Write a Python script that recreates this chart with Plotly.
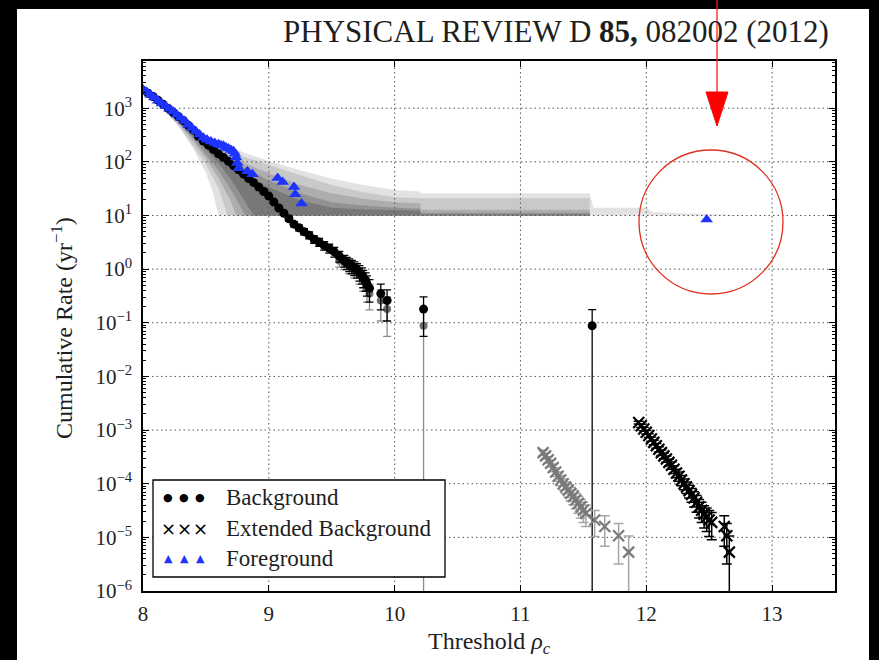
import plotly.graph_objects as go

# ---------------------------------------------------------------------------
# Background-estimate envelopes (nested bands, band 1 = widest / lightest)
# ---------------------------------------------------------------------------
band1_x = [8.0, 8.1, 8.2, 8.3, 8.4, 8.5, 8.55, 8.6, 8.7, 8.8, 8.9, 9.0, 9.25, 9.5, 9.75,
           10.0, 10.2, 10.21, 11.55, 11.58, 12.0, 12.05, 12.72]
band1_lo = [2150, 1350, 760, 400, 175, 62, 30, 10, 10, 10, 10, 10, 10, 10, 10,
            10, 10, 10, 10, 10, 10, 10, 10]
band1_hi = [2300, 1600, 1050, 700, 450, 320, 275, 240, 190, 150, 125, 104, 70, 49, 37,
            30, 28, 26, 26, 14, 14, 11.5, 10.2]

band2_x = [8.0, 8.1, 8.2, 8.3, 8.4, 8.5, 8.6, 8.64, 8.67, 8.8, 9.0, 9.25, 9.5, 9.75,
           10.0, 10.2, 10.21, 11.55]
band2_lo = [2150, 1400, 800, 420, 200, 90, 32, 17, 10, 10, 10, 10, 10, 10, 10, 10, 10, 10]
band2_hi = [2250, 1550, 1000, 660, 420, 290, 205, 195, 185, 125, 87, 56, 37, 27.5,
            22, 21.5, 21, 21]

band3_x = [8.0, 8.1, 8.2, 8.3, 8.4, 8.5, 8.6, 8.7, 8.74, 8.8, 9.0, 9.25, 9.5, 9.75,
           10.0, 10.2, 10.21, 11.55]
band3_lo = [2150, 1420, 830, 460, 240, 115, 50, 18, 10, 10, 10, 10, 10, 10, 10, 10, 10, 10]
band3_hi = [2200, 1500, 960, 620, 380, 260, 180, 125, 110, 95, 61, 37, 26, 20.5,
            17.7, 17, 12.8, 12.8]

band4_x = [8.0, 8.1, 8.2, 8.3, 8.4, 8.5, 8.6, 8.7, 8.78, 8.81, 9.0, 9.25, 9.5, 9.75,
           10.0, 10.2, 10.21, 11.55]
band4_lo = [2150, 1440, 850, 490, 270, 140, 70, 30, 14, 10, 10, 10, 10, 10, 10, 10, 10, 10]
band4_hi = [2170, 1480, 930, 580, 350, 235, 160, 108, 85, 78, 45, 26, 17.7, 15.3,
            14, 13.5, 11.3, 11.3]

band5_x = [8.0, 8.1, 8.2, 8.3, 8.4, 8.5, 8.6, 8.7, 8.8, 8.88, 9.0, 9.25, 9.5, 9.75,
           10.0, 10.2, 10.21, 11.55]
band5_lo = [2150, 1460, 870, 510, 300, 170, 95, 47, 20, 10, 10, 10, 10, 10, 10, 10, 10, 10]
band5_hi = [2160, 1470, 910, 560, 330, 215, 145, 97, 64, 45, 33.6, 19, 14, 13,
            12.6, 12.3, 10.6, 10.6]

band_colors = ["#e2e2e2", "#c9c9c9", "#adadad", "#929292", "#787878"]

# ---------------------------------------------------------------------------
# Background (time slides), cumulative rate in yr^-1 with Poisson errors
# ---------------------------------------------------------------------------
bkg_x = [8.00, 8.04, 8.08, 8.12, 8.16, 8.20, 8.24, 8.28, 8.32, 8.36, 8.40, 8.44, 8.48,
         8.52, 8.56, 8.60, 8.64, 8.68, 8.72, 8.76, 8.80, 8.84, 8.88, 8.92, 8.96, 9.00,
         9.04, 9.08, 9.12, 9.16, 9.20, 9.24, 9.28, 9.32, 9.36, 9.40, 9.44, 9.48, 9.52,
         9.56, 9.60, 9.62, 9.64, 9.66, 9.68, 9.70, 9.72, 9.74, 9.75, 9.77, 9.78, 9.80,
         9.89, 9.94, 10.23, 11.57]
bkg_y = [2140, 1900, 1650, 1400, 1180, 990, 830, 700, 590, 480, 390, 300, 245,
         205, 170, 141, 120, 102, 85, 71, 59, 49, 41, 34, 28, 23,
         17.8, 13.8, 11.0, 8.7, 6.9, 5.9, 5.0, 4.3, 3.6, 3.2, 2.75, 2.45, 2.1,
         1.74, 1.45, 1.32, 1.23, 1.14, 1.06, 0.97, 0.88, 0.79, 0.70, 0.62, 0.53, 0.44,
         0.35, 0.26, 0.18, 0.088]
bkg_err = [13.7, 12.9, 12.0, 11.1, 10.2, 9.3, 8.5, 7.8, 7.2, 6.5, 5.9, 5.1, 4.6,
           4.2, 3.9, 3.5, 3.25, 3.0, 2.7, 2.5, 2.3, 2.1, 1.9, 1.73, 1.57, 1.42,
           1.25, 1.10, 0.98, 0.87, 0.78, 0.72, 0.66, 0.62, 0.56, 0.53, 0.49, 0.46, 0.43,
           0.39, 0.36, 0.34, 0.33, 0.32, 0.305, 0.29, 0.28, 0.264, 0.25, 0.233, 0.216, 0.197,
           0.176, 0.152, 0.124, 0.088]

# Background with the candidate's own triggers removed (grey)
bkg2_x = [9.56, 9.60, 9.64, 9.68, 9.72, 9.75, 9.78, 9.80, 9.89, 9.94, 10.23]
bkg2_y = [1.45, 1.32, 1.14, 0.97, 0.79, 0.62, 0.44, 0.35, 0.26, 0.18, 0.088]
bkg2_err = [0.36, 0.34, 0.32, 0.29, 0.264, 0.233, 0.197, 0.176, 0.152, 0.124, 0.088]

# ---------------------------------------------------------------------------
# Extended background (many more time slides)
# ---------------------------------------------------------------------------
ext_x = [11.94, 11.96, 11.98, 12.00, 12.02, 12.04, 12.06, 12.08, 12.10, 12.12, 12.14,
         12.16, 12.18, 12.20, 12.22, 12.24, 12.26, 12.28, 12.30, 12.32, 12.34, 12.36,
         12.38, 12.40, 12.42, 12.44, 12.46, 12.48, 12.50, 12.52, 12.62, 12.64, 12.66]
ext_y = [1.38e-3, 1.20e-3, 1.05e-3, 9.1e-4, 7.9e-4, 6.8e-4, 5.9e-4, 5.1e-4, 4.4e-4,
         3.8e-4, 3.3e-4, 2.9e-4, 2.5e-4, 2.2e-4, 1.86e-4, 1.58e-4, 1.38e-4, 1.17e-4,
         1.0e-4, 8.7e-5, 7.4e-5, 6.3e-5, 5.4e-5, 4.5e-5, 3.7e-5, 3.2e-5, 2.7e-5, 2.4e-5,
         2.1e-5, 1.9e-5, 1.6e-5, 1.07e-5, 5.3e-6]
ext_err = [8.5e-5, 8.0e-5, 7.5e-5, 6.9e-5, 6.5e-5, 6.0e-5, 5.6e-5, 5.2e-5, 4.8e-5,
           4.5e-5, 4.2e-5, 3.9e-5, 3.6e-5, 3.4e-5, 3.1e-5, 2.9e-5, 2.7e-5, 2.5e-5,
           2.3e-5, 2.1e-5, 2.0e-5, 1.8e-5, 1.7e-5, 1.55e-5, 1.4e-5, 1.3e-5, 1.2e-5, 1.12e-5,
           1.06e-5, 1.0e-5, 9.2e-6, 7.5e-6, 5.3e-6]

ext2_x = [11.18, 11.20, 11.22, 11.24, 11.26, 11.28, 11.30, 11.32, 11.34, 11.36, 11.38,
          11.40, 11.42, 11.44, 11.46, 11.48, 11.50, 11.52, 11.59, 11.67, 11.78, 11.86]
ext2_y = [3.8e-4, 3.3e-4, 2.8e-4, 2.4e-4, 2.0e-4, 1.66e-4, 1.38e-4, 1.17e-4, 1.0e-4,
          8.7e-5, 7.6e-5, 6.6e-5, 5.8e-5, 5.0e-5, 4.3e-5, 3.7e-5, 3.2e-5, 2.8e-5,
          2.1e-5, 1.6e-5, 1.07e-5, 5.3e-6]
ext2_err = [4.5e-5, 4.2e-5, 3.9e-5, 3.6e-5, 3.3e-5, 3.0e-5, 2.7e-5, 2.5e-5, 2.3e-5,
            2.1e-5, 2.0e-5, 1.9e-5, 1.75e-5, 1.6e-5, 1.5e-5, 1.4e-5, 1.3e-5, 1.2e-5,
            1.06e-5, 9.2e-6, 7.5e-6, 5.3e-6]

# ---------------------------------------------------------------------------
# Foreground (zero-lag) coincidences
# ---------------------------------------------------------------------------
fg_x = [8.00, 8.03, 8.06, 8.09, 8.12, 8.15, 8.18, 8.21, 8.24, 8.27, 8.30, 8.33, 8.36,
        8.39, 8.42, 8.45, 8.48, 8.51, 8.54, 8.57, 8.60, 8.62, 8.64, 8.66, 8.68, 8.70,
        8.72, 8.73, 8.74, 8.75, 8.76, 8.83, 8.87, 9.07, 9.11, 9.20, 9.21, 9.26, 12.48]
fg_y = [2239, 1995, 1778, 1585, 1380, 1230, 1096, 977, 871, 759, 661, 575, 490,
        427, 372, 324, 282, 257, 240, 224, 214, 204, 200, 186, 178, 166,
        158, 141, 120, 95, 76, 67, 59, 50, 42, 34, 25, 16.8, 8.4]

# Axis ticks
x_ticks = [8, 9, 10, 11, 12, 13]
y_tick_exp = [-6, -5, -4, -3, -2, -1, 0, 1, 2, 3]
y_ticks = [10.0 ** e for e in y_tick_exp]
y_ticktext = ["10<sup>" + (str(e) if e >= 0 else "\u2212" + str(-e)) + "</sup>"
              for e in y_tick_exp]

X_RANGE = [8, 13.5]
Y_RANGE_LOG = [-6, 3.88]
SERIF = "Liberation Serif, Times New Roman, serif"
TEXT = "#1e1e1e"
BLUE = "#1f33ff"

fig = go.Figure()

# envelopes
bands = [(band1_x, band1_lo, band1_hi), (band2_x, band2_lo, band2_hi),
         (band3_x, band3_lo, band3_hi), (band4_x, band4_lo, band4_hi),
         (band5_x, band5_lo, band5_hi)]
for (bx, blo, bhi), col in zip(bands, band_colors):
    fig.add_trace(go.Scatter(
        x=list(bx) + list(bx)[::-1], y=list(bhi) + list(blo)[::-1],
        mode="lines", fill="toself", fillcolor=col, line=dict(width=0, color=col),
        hoverinfo="skip", showlegend=False))

# dotted grid drawn over the envelopes
gx, gy = [], []
for t in x_ticks[1:]:
    gx += [t, t, None]
    gy += [10 ** Y_RANGE_LOG[0], 10 ** Y_RANGE_LOG[1], None]
for v in y_ticks[1:]:
    gx += [X_RANGE[0], X_RANGE[1], None]
    gy += [v, v, None]
fig.add_trace(go.Scatter(x=gx, y=gy, mode="lines", connectgaps=False,
                         line=dict(color="#555555", width=1, dash="1.5px,3px"),
                         hoverinfo="skip", showlegend=False))

# background
fig.add_trace(go.Scatter(
    x=bkg2_x, y=bkg2_y, mode="markers", showlegend=False,
    marker=dict(symbol="circle", size=8, color="#6f6f6f"),
    error_y=dict(type="data", array=bkg2_err, arrayminus=bkg2_err,
                 color="#8c8c8c", thickness=1.3, width=4)))
fig.add_trace(go.Scatter(
    x=bkg_x, y=bkg_y, mode="markers", name="Background", showlegend=False,
    marker=dict(symbol="circle", size=9, color="black"),
    error_y=dict(type="data", array=bkg_err, arrayminus=bkg_err,
                 color="black", thickness=1.3, width=4)))

# extended background
fig.add_trace(go.Scatter(
    x=ext2_x, y=ext2_y, mode="markers", showlegend=False,
    marker=dict(symbol="x-thin", size=11, line=dict(width=2.2, color="#7a7a7a")),
    error_y=dict(type="data", array=ext2_err, arrayminus=ext2_err,
                 color="#a6a6a6", thickness=1.5, width=5)))
fig.add_trace(go.Scatter(
    x=ext_x, y=ext_y, mode="markers", name="Extended Background", showlegend=False,
    marker=dict(symbol="x-thin", size=11, line=dict(width=2.2, color="black")),
    error_y=dict(type="data", array=ext_err, arrayminus=ext_err,
                 color="black", thickness=1.5, width=5)))

# foreground
fig.add_trace(go.Scatter(
    x=fg_x, y=fg_y, mode="markers", name="Foreground", showlegend=False,
    marker=dict(symbol="triangle-up", size=11, color=BLUE)))


def px_x(p):
    return (p - 143) / 692.0


def px_y(p):
    return (591 - p) / 530.0


shapes = []
# dark page border strips
for x0, x1, y0, y1 in [(0, 17, 0, 660), (0, 879, 0, 9), (869, 879, 0, 660)]:
    shapes.append(dict(type="rect", xref="paper", yref="paper",
                       x0=px_x(x0), x1=px_x(x1), y0=px_y(y1), y1=px_y(y0),
                       fillcolor="black", line=dict(width=0), layer="above"))
# legend frame
shapes.append(dict(type="rect", xref="paper", yref="paper",
                   x0=px_x(153), x1=px_x(445), y0=px_y(577), y1=px_y(480),
                   fillcolor="white", line=dict(color="black", width=1.3), layer="above"))
# red highlight: circle and arrow
shapes.append(dict(type="circle", xref="paper", yref="paper",
                   x0=px_x(639), x1=px_x(783), y0=px_y(294), y1=px_y(150),
                   line=dict(color="#e0301e", width=1.3), layer="above"))
shapes.append(dict(type="line", xref="paper", yref="paper",
                   x0=px_x(717), x1=px_x(717), y0=px_y(0), y1=px_y(95),
                   line=dict(color="#ff1a1a", width=1.3), layer="above"))
shapes.append(dict(type="path", xref="paper", yref="paper",
                   path="M %f,%f L %f,%f L %f,%f Z" % (px_x(706), px_y(92), px_x(728), px_y(92),
                                                       px_x(717), px_y(126)),
                   fillcolor="#ff0000", line=dict(color="#ff0000", width=1), layer="above"))

annotations = []
annotations.append(dict(xref="paper", yref="paper", x=px_x(831), y=px_y(31),
                        xanchor="right", yanchor="middle", showarrow=False,
                        text="PHYSICAL REVIEW D <b>85,</b> 082002 (2012)",
                        font=dict(family=SERIF, size=31, color=TEXT)))
annotations.append(dict(xref="paper", yref="paper", x=px_x(62), y=px_y(328),
                        xanchor="center", yanchor="middle", showarrow=False, textangle=-90,
                        text="Cumulative Rate (yr<sup>\u22121</sup>)",
                        font=dict(family=SERIF, size=24, color=TEXT)))
annotations.append(dict(xref="paper", yref="paper", x=px_x(489), y=px_y(643),
                        xanchor="center", yanchor="middle", showarrow=False,
                        text="Threshold <i>\u03c1</i><sub><i>c</i></sub>",
                        font=dict(family=SERIF, size=24, color=TEXT)))

legend_rows = [("Background", "\u25cf", "black", 11, 497),
               ("Extended Background", "\u00d7", "black", 18, 528),
               ("Foreground", "\u25b2", BLUE, 11, 558)]
for label, sym, col, ssize, ypx in legend_rows:
    for mx in (168, 184, 200):
        annotations.append(dict(xref="paper", yref="paper", x=px_x(mx), y=px_y(ypx),
                                xanchor="center", yanchor="middle", showarrow=False,
                                text=sym, font=dict(family="DejaVu Sans", size=ssize, color=col)))
    annotations.append(dict(xref="paper", yref="paper", x=px_x(224), y=px_y(ypx),
                            xanchor="left", yanchor="middle", showarrow=False, text=label,
                            font=dict(family=SERIF, size=23, color=TEXT)))

fig.update_layout(
    width=879, height=660,
    margin=dict(l=143, r=44, t=61, b=69),
    paper_bgcolor="white", plot_bgcolor="white",
    shapes=shapes, annotations=annotations, showlegend=False,
    font=dict(family=SERIF, color=TEXT),
)
fig.update_xaxes(
    range=X_RANGE, tickvals=x_ticks, showgrid=False, zeroline=False,
    showline=True, linecolor="black", linewidth=1.5, mirror="allticks",
    ticks="inside", ticklen=6, tickwidth=1, tickcolor="black",
    ticklabelstandoff=3,
    tickfont=dict(family=SERIF, size=21, color=TEXT),
)
fig.update_yaxes(
    type="log", range=Y_RANGE_LOG, tickvals=y_ticks, ticktext=y_ticktext,
    showgrid=False, zeroline=False,
    showline=True, linecolor="black", linewidth=1.5, mirror="allticks",
    ticks="inside", ticklen=6, tickwidth=1, tickcolor="black",
    ticklabelstandoff=5,
    minor=dict(ticks="inside", ticklen=3, tickcolor="black", dtick="D1", showgrid=False),
    tickfont=dict(family=SERIF, size=21, color=TEXT),
)

fig.write_html("out.html")
